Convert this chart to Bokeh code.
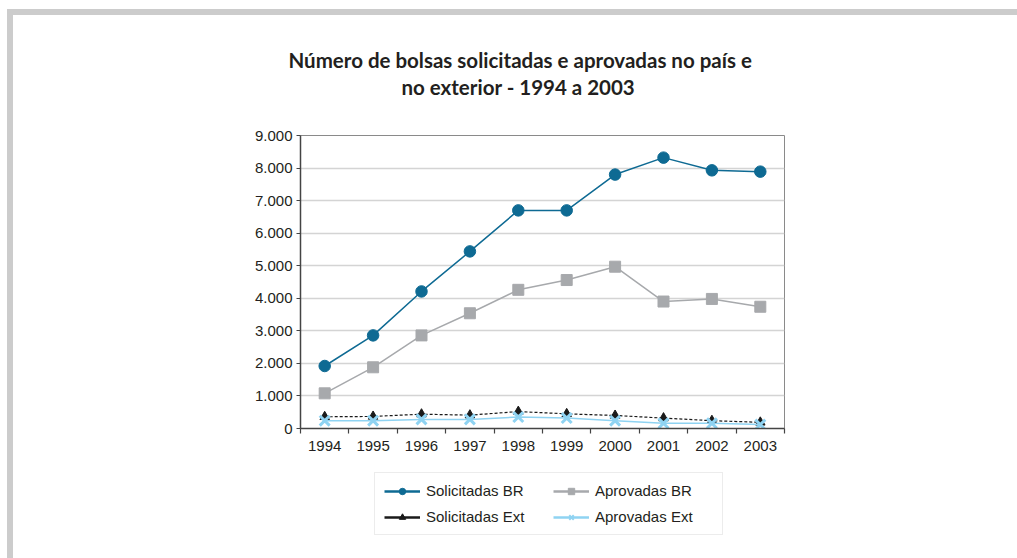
from bokeh.plotting import figure
from bokeh.models import FixedTicker, Legend, LegendItem, Title, Range1d
from bokeh.layouts import column
from bokeh.embed import file_html
from bokeh.resources import INLINE

# ---- data ----
years = ["1994", "1995", "1996", "1997", "1998", "1999", "2000", "2001", "2002", "2003"]
solicitadas_br = [1920, 2860, 4210, 5440, 6700, 6700, 7800, 8320, 7930, 7890]
aprovadas_br = [1080, 1880, 2860, 3540, 4260, 4560, 4970, 3900, 3980, 3740]
solicitadas_ext = [360, 370, 440, 410, 520, 450, 400, 320, 240, 190]
aprovadas_ext = [240, 240, 280, 280, 350, 320, 240, 160, 160, 120]
y_ticks = [0, 1000, 2000, 3000, 4000, 5000, 6000, 7000, 8000, 9000]
y_tick_labels = ["0", "1.000", "2.000", "3.000", "4.000", "5.000", "6.000", "7.000", "8.000", "9.000"]
title_lines = ["Número de bolsas solicitadas e aprovadas no país e", "no exterior - 1994 a 2003"]
legend_labels = ["Solicitadas BR", "Solicitadas Ext", "Aprovadas BR", "Aprovadas Ext"]

W = 1017
H1, H2 = 462, 96
FL, FR, FT, FB = 300, 784, 135, 428

xs = list(range(len(years)))

band = "linear-gradient(#cccccc, #cccccc)"
p = figure(width=W, height=H1, output_backend="svg", toolbar_location=None,
           x_range=(-0.5, len(years) - 0.5), y_range=(0, 9000),
           min_border_left=FL, min_border_right=W - FR,
           min_border_top=FT, min_border_bottom=H1 - FB,
           background_fill_color="white", border_fill_alpha=0,
           styles={"background": f"{band} 7px 9px / 1010px 6px no-repeat, {band} 7px 9px / 6px 100% no-repeat, white"})
p.outline_line_color = "#8a8a8a"
p.outline_line_width = 1

# axes
fnt = "Liberation Sans"
p.xaxis.ticker = FixedTicker(ticks=xs, minor_ticks=[i - 0.5 for i in range(len(years) + 1)])
p.xaxis.major_label_overrides = {i: y for i, y in enumerate(years)}
p.xaxis.major_tick_out = 0
p.xaxis.major_tick_in = 0
p.xaxis.minor_tick_out = 5
p.xaxis.minor_tick_in = 0
p.xaxis.minor_tick_line_color = "#444444"
p.xaxis.minor_tick_line_width = 1.2
p.xaxis.major_label_standoff = 7
p.yaxis.ticker = FixedTicker(ticks=y_ticks)
p.yaxis.major_label_overrides = {t: l for t, l in zip(y_ticks, y_tick_labels)}
p.yaxis.major_tick_out = 4
p.yaxis.major_tick_in = 0
p.yaxis.minor_tick_line_color = None
p.yaxis.major_label_standoff = 4
for ax in (p.xaxis, p.yaxis):
    ax.axis_line_color = "#444444"
    ax.axis_line_width = 1.5
    ax.major_tick_line_color = "#444444"
    ax.major_label_text_font = fnt
    ax.major_label_text_font_size = "15px"
    ax.major_label_text_color = "#231f20"

p.xgrid.grid_line_color = None
p.ygrid.ticker = FixedTicker(ticks=y_ticks)
p.ygrid.grid_line_color = "#d4d4d4"
p.ygrid.grid_line_width = 1.5

# series
c_sbr = "#0e6a93"
c_abr = "#a7a9ac"
c_sext = "#1a1a1a"
c_aext = "#8fd3f2"

p.line(xs, solicitadas_br, line_color=c_sbr, line_width=1.5)
p.scatter(xs, solicitadas_br, marker="circle", size=11.5, fill_color=c_sbr, line_color=c_sbr)
p.line(xs, aprovadas_br, line_color=c_abr, line_width=1.5)
p.scatter(xs, aprovadas_br, marker="square", size=11, fill_color=c_abr, line_color=c_abr)
p.line(xs, solicitadas_ext, line_color=c_sext, line_width=1.2, line_dash="3 2")
p.scatter(xs, solicitadas_ext, marker="triangle", size=9.5, fill_color=c_sext, line_color=c_sext)
p.line(xs, aprovadas_ext, line_color=c_aext, line_width=1.5)
p.scatter(xs, aprovadas_ext, marker="x", size=14, line_color=c_aext, line_width=3)

# title: spacer + two lines, stacked outward from the frame
tfont = dict(text_font="Lato", text_font_style="bold", text_font_size="20.5px", text_color="#231f20")
p.add_layout(Title(text=" ", align="left", offset=0, standoff=34, text_font_size="1px"), "above")
p.add_layout(Title(text=title_lines[1], align="left", offset=101, standoff=0, **tfont), "above")
p.add_layout(Title(text=title_lines[0], align="left", offset=-12, standoff=1, **tfont), "above")

# ---- legend panel ----
q = figure(width=W, height=H2, output_backend="svg", toolbar_location=None,
           x_range=Range1d(0, 1), y_range=Range1d(0, 1), min_border=0,
           x_axis_location=None, y_axis_location=None,
           background_fill_color="white", border_fill_alpha=0,
           styles={"background": f"{band} 7px 0px / 6px 100% no-repeat, white"})
q.outline_line_color = None
q.grid.visible = False

# legend swatches (series drawn outside this panel's visible range; only legend glyphs show)
g1 = q.line(xs, solicitadas_br, line_color=c_sbr, line_width=2.5)
gm1 = q.scatter(xs, solicitadas_br, marker="circle", size=8, fill_color=c_sbr, line_color=c_sbr)
g3 = q.line(xs, solicitadas_ext, line_color=c_sext, line_width=2.5)
gm3 = q.scatter(xs, solicitadas_ext, marker="triangle", size=8, fill_color=c_sext, line_color=c_sext)
g2 = q.line(xs, aprovadas_br, line_color=c_abr, line_width=2.5)
gm2 = q.scatter(xs, aprovadas_br, marker="square", size=8, fill_color=c_abr, line_color=c_abr)
g4 = q.line(xs, aprovadas_ext, line_color=c_aext, line_width=2.5)
gm4 = q.scatter(xs, aprovadas_ext, marker="x", size=8, line_color=c_aext, line_width=2)

legend = Legend(items=[
    LegendItem(label=legend_labels[0], renderers=[g1, gm1]),
    LegendItem(label=legend_labels[1], renderers=[g3, gm3]),
    LegendItem(label=legend_labels[2], renderers=[g2, gm2]),
    LegendItem(label=legend_labels[3], renderers=[g4, gm4]),
], location=(74, 23), ncols=2)
legend.glyph_width = 36
legend.glyph_height = 16
legend.label_standoff = 6
legend.label_width = 118
legend.spacing = 9
legend.padding = 9
legend.margin = 0
legend.border_line_color = "#d9d9d9"
legend.border_line_width = 1.5
legend.background_fill_alpha = 1
legend.label_text_font = fnt
legend.label_text_font_size = "15px"
legend.label_text_color = "#231f20"
q.add_layout(legend, "center")

layout = column(p, q, spacing=0)
open("out.html", "w").write(file_html(layout, INLINE))
